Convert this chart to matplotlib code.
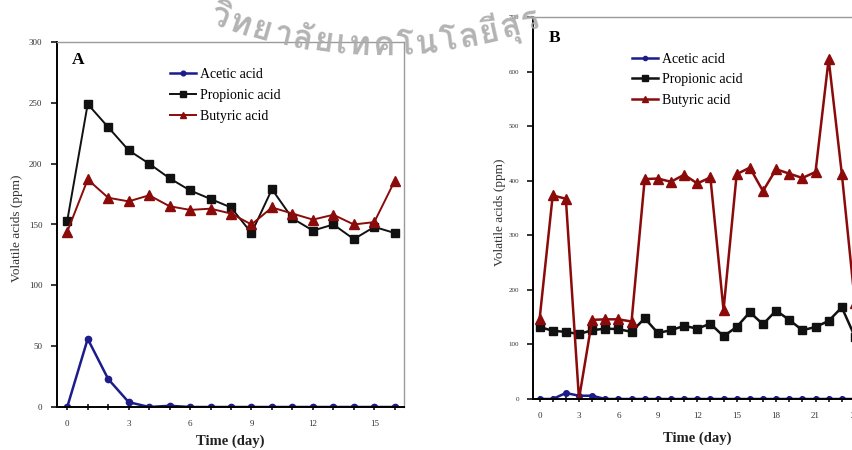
import numpy as np
import matplotlib
matplotlib.use("Agg")
import matplotlib.pyplot as plt
from matplotlib import font_manager
from matplotlib.ft2font import FT2Font
from matplotlib.ticker import MultipleLocator

# ---- data -------------------------------------------------------------
days_a = list(range(17))
acetic_a = [0, 56, 23, 4, 0, 1, 0, 0, 0, 0, 0, 0, 0, 0, 0, 0, 0]
propionic_a = [153, 249, 230, 211, 200, 188, 178, 171, 164, 143, 179, 155, 145, 150, 138, 148, 143]
butyric_a = [144, 187, 172, 169, 174, 165, 162, 163, 159, 150, 164, 159, 154, 158, 150, 152, 186]

days_b = list(range(25))
acetic_b = [0, 0, 11, 6, 6, 0, 0, 0, 0, 0, 0, 0, 0, 0, 0, 0, 0, 0, 0, 0, 0, 0, 0, 0, 0]
propionic_b = [132, 125, 123, 119, 126, 129, 128, 123, 148, 121, 126, 134, 129, 138, 115,
               132, 159, 137, 162, 145, 126, 132, 143, 168, 114]
butyric_b = [146, 373, 367, 0, 145, 146, 146, 142, 403, 404, 398, 411, 395, 406, 163,
             412, 424, 381, 421, 413, 405, 416, 623, 413, 176]

series_labels = ["Acetic acid", "Propionic acid", "Butyric acid"]
x_label = "Time (day)"
y_label = "Volatile acids (ppm)"
seal_text = "วิทยาลัยเทคโนโลยีสุร"

# ---- style ------------------------------------------------------------
SERIF = "Liberation Serif"
C_ACETIC = "#1c1c8a"
C_PROP = "#111111"
C_BUT = "#8b0a0a"
GREY = "#9a9a9a"

W, H = 852, 450
fig = plt.figure(figsize=(W / 100, H / 100), dpi=100)


def px_axes(left, top, width, height):
    return fig.add_axes([left / W, 1 - (top + height) / H, width / W, height / H])


def style_axes(ax, ylab_x, xlab_y, ytick_pad, xtick_pad, ytick_size):
    for side in ("left", "bottom"):
        ax.spines[side].set_color("black")
        ax.spines[side].set_linewidth(1.4)
    for side in ("top", "right"):
        ax.spines[side].set_color(GREY)
        ax.spines[side].set_linewidth(1.0)
    ax.xaxis.set_major_locator(MultipleLocator(3))
    ax.xaxis.set_minor_locator(MultipleLocator(1))
    ax.tick_params(axis="y", direction="out", length=4, width=1.1,
                   labelsize=ytick_size, pad=ytick_pad, labelcolor="#333333")
    ax.tick_params(axis="x", which="both", direction="inout", length=5, width=1.1,
                   labelsize=6.5, pad=xtick_pad, labelcolor="#333333")
    for lab in ax.get_xticklabels() + ax.get_yticklabels():
        lab.set_family(SERIF)
    ax.set_xlabel(x_label, family=SERIF, fontsize=10.5, fontweight="bold", color="#222222")
    ax.set_ylabel(y_label, family=SERIF, fontsize=9.5, color="#333333")
    ax.yaxis.set_label_coords(ylab_x, 0.49)
    ax.xaxis.set_label_coords(0.5, xlab_y)


def add_legend(ax, anchor, spacing):
    leg = ax.legend(loc="upper left", bbox_to_anchor=anchor, frameon=False,
                    prop={"family": SERIF, "size": 10}, handlelength=1.9,
                    handletextpad=0.3, borderpad=0, borderaxespad=0,
                    labelspacing=spacing, markerscale=0.75)
    return leg


# ---- panel A ----------------------------------------------------------
axA = px_axes(57, 42, 347, 365)
axA.plot(days_a, acetic_a, color=C_ACETIC, lw=1.8, marker="o", ms=4.5, label=series_labels[0])
axA.plot(days_a, propionic_a, color=C_PROP, lw=1.4, marker="s", ms=5.5, label=series_labels[1])
axA.plot(days_a, butyric_a, color=C_BUT, lw=1.4, marker="^", ms=6.5, label=series_labels[2])
axA.set_xlim(-0.5, 16.45)
axA.set_ylim(0, 300)
axA.yaxis.set_major_locator(MultipleLocator(50))
style_axes(axA, -0.098, -0.075, 6.5, 7, 6.5)
add_legend(axA, (0.325, 0.93), 0.6)
axA.text(0.06, 0.95, "A", transform=axA.transAxes, family=SERIF, fontsize=12.5,
         fontweight="bold", ha="center", va="center")

# ---- panel B (extends past the right edge of the canvas) ---------------
axB = px_axes(533, 17, 328.5, 382)
axB.plot(days_b, acetic_b, color=C_ACETIC, lw=1.8, marker="o", ms=4, label=series_labels[0])
axB.plot(days_b, propionic_b, color=C_PROP, lw=1.8, marker="s", ms=6, label=series_labels[1])
axB.plot(days_b, butyric_b, color=C_BUT, lw=1.8, marker="^", ms=6.5, label=series_labels[2])
axB.set_xlim(-0.5, 24.5)
axB.set_ylim(0, 700)
axB.yaxis.set_major_locator(MultipleLocator(100))
style_axes(axB, -0.082, -0.085, 6, 6.5, 5)
add_legend(axB, (0.30, 0.907), 0.55)
axB.text(0.065, 0.945, "B", transform=axB.transAxes, family=SERIF, fontsize=12.5,
         fontweight="bold", ha="center", va="center")


# ---- curved seal lettering along the top --------------------------------
def thai_family():
    for f in font_manager.fontManager.ttflist:
        try:
            if 0x0E27 in FT2Font(f.fname).get_charmap():
                return f.name
        except Exception:
            continue
    return "DejaVu Sans"


def clusters(text):
    out = []
    for ch in text:
        if out and (0x0E31 == ord(ch) or 0x0E34 <= ord(ch) <= 0x0E3A or 0x0E47 <= ord(ch) <= 0x0E4E):
            out[-1] += ch
        else:
            out.append(ch)
    return out


thai = thai_family()
cx, cy, R = 380.0, H + 414.0, 469.0   # circle centre/radius in display pixels
theta = np.arcsin((208 - cx) / R)
renderer = fig.canvas.get_renderer()
for cl in clusters(seal_text):
    t = fig.text(0, 0, cl, family=[thai, "DejaVu Sans"], fontsize=24, fontweight="bold",
                 color="#ababab", alpha=0.9, ha="left", va="baseline",
                 rotation_mode="anchor", zorder=10)
    wpx = t.get_window_extent(renderer).width + 2.0
    x = cx + R * np.sin(theta)
    y = cy - R * np.cos(theta)
    t.set_position((x / W, y / H))
    t.set_rotation(np.degrees(theta))
    theta += wpx / R

fig.savefig("out.png", dpi=100)
